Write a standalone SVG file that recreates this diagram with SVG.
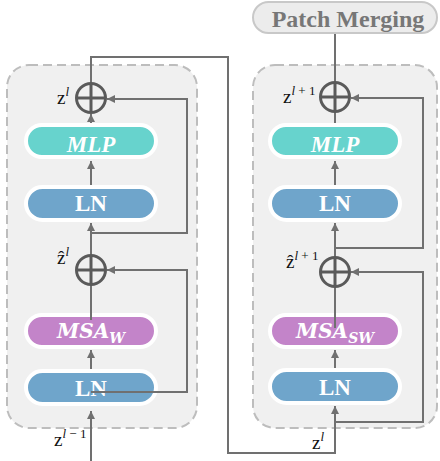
<svg xmlns="http://www.w3.org/2000/svg" width="440" height="461" viewBox="0 0 440 461">
<defs>
<marker id="arr" markerUnits="userSpaceOnUse" markerWidth="9" markerHeight="9" refX="8" refY="4.5" orient="auto">
<path d="M0,0.5 L8,4.5 L0,8.5 z" fill="#707070"/>
</marker>
</defs>
<style>
.block{fill:#f0f0f0;stroke:#bdbdbd;stroke-width:2;stroke-dasharray:9 5}
.pill{stroke:#ffffff;stroke-width:4}
.mlp{fill:#67d3cd}
.ln{fill:#6fa5cb}
.msa{fill:#c384c9}
.ptxt{font-family:"Liberation Serif",serif;font-weight:bold;fill:#ffffff;font-size:23px;text-anchor:middle}
.mtxt{font-family:"DejaVu Serif",serif;font-weight:bold;font-style:italic;fill:#ffffff;font-size:20px;text-anchor:middle}
.lbl{font-family:"Liberation Serif",serif;font-size:19px;fill:#111}
.sup{font-size:13px;font-style:italic}
.con{fill:none;stroke:#707070;stroke-width:2}
.add{fill:none;stroke:#5a5a5a;stroke-width:3}
</style>
<rect class="block" x="7" y="65" width="190" height="363" rx="22"/>
<rect class="block" x="253" y="65" width="184" height="363" rx="22"/>
<g id="patch-merging">
<rect x="253" y="2" width="184" height="31" rx="15.5" fill="#ececec" stroke="#c8c8c8" stroke-width="2"/>
<text x="348" y="27" font-family="Liberation Serif, serif" font-weight="bold" font-size="24" fill="#777777" text-anchor="middle">Patch Merging</text>
</g>
<g id="left-mlp"><rect class="pill mlp" x="26" y="125" width="130" height="32" rx="16"/><text class="ptxt" x="91" y="152" font-style="italic">MLP</text></g>
<g id="left-ln1"><rect class="pill ln" x="26" y="187" width="130" height="33" rx="16.5"/><text class="ptxt" x="91" y="211">LN</text></g>
<g id="left-msa"><rect class="pill msa" x="26" y="315" width="130" height="32" rx="16"/><text class="mtxt" x="91" y="338">MSA<tspan font-size="14" dy="5">W</tspan></text></g>
<g id="left-ln2"><rect class="pill ln" x="26" y="371" width="130" height="33" rx="16.5"/><text class="ptxt" x="91" y="396">LN</text></g>
<g id="right-mlp"><rect class="pill mlp" x="270" y="125" width="130" height="32" rx="16"/><text class="ptxt" x="335" y="152" font-style="italic">MLP</text></g>
<g id="right-ln1"><rect class="pill ln" x="270" y="187" width="130" height="33" rx="16.5"/><text class="ptxt" x="335" y="211">LN</text></g>
<g id="right-msa"><rect class="pill msa" x="270" y="315" width="130" height="32" rx="16"/><text class="mtxt" x="335" y="338">MSA<tspan font-size="14" dy="5">SW</tspan></text></g>
<g id="right-ln2"><rect class="pill ln" x="270" y="370" width="130" height="33" rx="16.5"/><text class="ptxt" x="335" y="395">LN</text></g>
<g id="connectors">
<path class="con" d="M91,461 V411" marker-end="url(#arr)"/>
<path class="con" d="M91,369 V350" marker-end="url(#arr)"/>
<path class="con" d="M91,392 H187 V270 H107" marker-end="url(#arr)"/>
<path class="con" d="M91,320 V284"/>
<path class="con" d="M91,256 V223" marker-end="url(#arr)"/>
<path class="con" d="M91,233 H187 V99 H107" marker-end="url(#arr)"/>
<path class="con" d="M91,185 V161" marker-end="url(#arr)"/>
<path class="con" d="M91,123 V114" marker-end="url(#arr)"/>
<path class="con" d="M91,84 V57 H228 V453 H335 V406" marker-end="url(#arr)"/>
<path class="con" d="M335,368 V350" marker-end="url(#arr)"/>
<path class="con" d="M335,422 H423 V272 H351" marker-end="url(#arr)"/>
<path class="con" d="M335,328 V286"/>
<path class="con" d="M335,258 V223" marker-end="url(#arr)"/>
<path class="con" d="M335,248 H423 V98 H351" marker-end="url(#arr)"/>
<path class="con" d="M335,185 V161" marker-end="url(#arr)"/>
<path class="con" d="M335,123 V112"/>
<path class="con" d="M335,83 V34"/>
</g>
<g id="left-add2"><circle class="add" cx="91" cy="98" r="14.5"/><path class="add" d="M76.5,98 H105.5 M91,83.5 V112.5"/><text class="lbl" x="57" y="104">z<tspan class="sup" dy="-8">l</tspan></text></g>
<g id="left-add1"><circle class="add" cx="91" cy="270" r="14.5"/><path class="add" d="M76.5,270 H105.5 M91,255.5 V284.5"/><text class="lbl" x="57" y="264">ẑ<tspan class="sup" dy="-8">l</tspan></text></g>
<g id="right-add2"><circle class="add" cx="335" cy="97" r="14.5"/><path class="add" d="M320.5,97 H349.5 M335,82.5 V111.5"/><text class="lbl" x="283" y="103">z<tspan class="sup" dy="-8">l<tspan font-style="normal"> + 1</tspan></tspan></text></g>
<g id="right-add1"><circle class="add" cx="335" cy="272" r="14.5"/><path class="add" d="M320.5,272 H349.5 M335,257.5 V286.5"/><text class="lbl" x="286" y="268">ẑ<tspan class="sup" dy="-8">l<tspan font-style="normal"> + 1</tspan></tspan></text></g>
<g id="labels">
<text class="lbl" x="54" y="446">z<tspan class="sup" dy="-8">l<tspan font-style="normal"> − 1</tspan></tspan></text>
<text class="lbl" x="312" y="449">z<tspan class="sup" dy="-8">l</tspan></text>
</g>
</svg>
